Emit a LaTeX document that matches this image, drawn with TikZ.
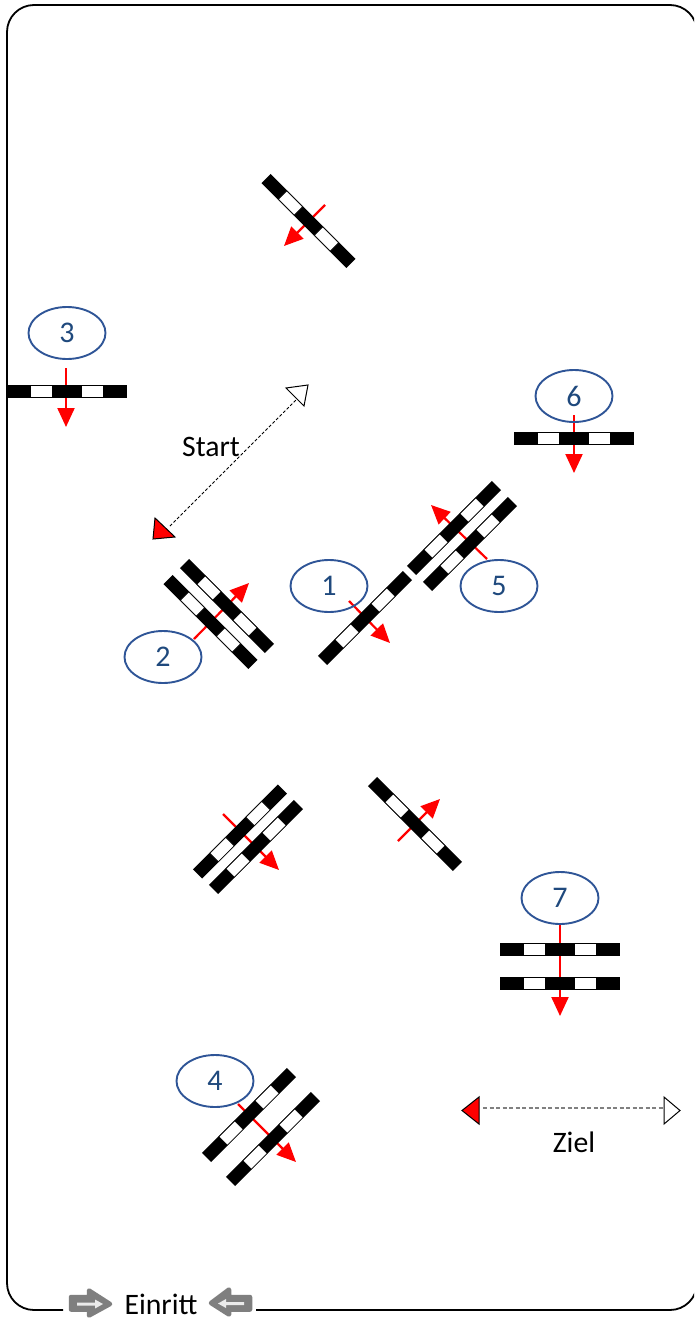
\documentclass[tikz,border=0pt]{standalone}
\usepackage{fontspec}
\setmainfont{Carlito}
\usetikzlibrary{arrows.meta,shapes.geometric}
\definecolor{numblue}{HTML}{1F497D}
\definecolor{ringblue}{HTML}{2F5597}
\definecolor{einrittgray}{HTML}{7F7F7F}
\definecolor{zielgray}{HTML}{808080}
\tikzset{
  x=1pt,y=-1pt,
  label text/.style={font=\fontsize{29.7}{32}\selectfont,text=black,inner sep=0pt},
  num/.style={draw=ringblue,line width=1.9pt,ellipse,minimum width=77pt,minimum height=52pt,inner sep=0pt,
    font=\fontsize{30}{32}\selectfont,text=numblue},
  redarrow/.style={draw=red,line width=2.2pt,-{Triangle[length=19pt,width=17pt,fill=red]}},
  dashline/.style={line width=1pt,dash pattern=on 3pt off 2pt},
  tipshape/.style={draw=black,line width=1pt,line join=miter},
  gate/.style={draw=einrittgray,line width=4.5pt,fill=einrittgray,line join=round},
  gateinner/.style={fill=white!92!black},
  railbar/.pic={
    \fill[black] (-60,-6.5) rectangle (60,6.5);
    \draw[black,fill=white,line width=.7pt] (-36.7,-6) rectangle (-14.3,6);
    \draw[black,fill=white,line width=.7pt] (14.3,-6) rectangle (36.7,6);
  }
}
\begin{document}
\begin{tikzpicture}
\clip (0,0) rectangle (694,1319);
\fill[white] (0,0) rectangle (694,1319);
% frame
\coordinate (fa) at (63,1310);
\coordinate (fb) at (256,1310);
\draw[black,line width=1.8pt,rounded corners=27pt]
  (fa) -- (7,1310) -- (7,5) -- (697,5) -- (697,1310) -- (fb);
% direction arrows
\coordinate (r0a) at (325,205); \coordinate (r0b) at (284,246);
\coordinate (r3a) at (66,368);  \coordinate (r3b) at (66,427);
\coordinate (r6a) at (574,415); \coordinate (r6b) at (574,473);
\coordinate (r7a) at (560,925); \coordinate (r7b) at (560,1016);
\coordinate (r1a) at (349,601); \coordinate (r1b) at (390,643);
\coordinate (r2a) at (194,639); \coordinate (r2b) at (249,583);
\coordinate (r5a) at (487,559); \coordinate (r5b) at (431,505);
\coordinate (r8a) at (223,814); \coordinate (r8b) at (279,870);
\coordinate (r9a) at (398,841); \coordinate (r9b) at (440,799);
\coordinate (r4a) at (238,1104); \coordinate (r4b) at (296,1162);
\foreach \n in {0,3,6,7,1,2,5,8,9,4}
  \draw[redarrow] (r\n a) -- (r\n b);
% bars
\pic[rotate=-45] at (308.5,221) {railbar};
\pic at (67,391.5) {railbar};
\pic at (574,438.5) {railbar};
\pic at (560,949.5) {railbar};
\pic at (560,983.5) {railbar};
\pic[rotate=45] at (365,618) {railbar};
\pic[rotate=-45] at (210.5,622) {railbar};
\pic[rotate=-45] at (227,606) {railbar};
\pic[rotate=45] at (454,528) {railbar};
\pic[rotate=45] at (470,544) {railbar};
\pic[rotate=45] at (240,831.5) {railbar};
\pic[rotate=45] at (256,847) {railbar};
\pic[rotate=-45] at (415,824) {railbar};
\pic[rotate=45] at (249,1115) {railbar};
\pic[rotate=45] at (273,1139) {railbar};
% numbers
\node[num] (n3) at (67,333) {3};
\node[num] (n6) at (574,396) {6};
\node[num] (n7) at (560,898) {7};
\node[num] (n1) at (329,586) {1};
\node[num] (n2) at (163,657) {2};
\node[num] (n5) at (499,586) {5};
\node[num] (n4) at (215,1081) {4};
% start arrow
\coordinate (sa) at (170,526); \coordinate (sb) at (297,399);
\draw[dashline] (sa) -- (sb);
\draw[tipshape,fill=red] (155,518) -- (153,539) -- (175,537) -- cycle;
\draw[tipshape,fill=white] (286,388) -- (308,385) -- (304,406) -- cycle;
\node[label text] (tstart) at (211,447) {Start};
% finish arrow
\coordinate (za) at (483,1108); \coordinate (zb) at (664,1108);
\draw[draw=zielgray,line width=1.3pt,dash pattern=on 4pt off 2.5pt] (za) -- (zb);
\draw[tipshape,fill=red] (462,1110.5) -- (479,1097) -- (479,1124) -- cycle;
\draw[tipshape,fill=white] (664,1097) -- (680,1110.5) -- (664,1124) -- cycle;
\node[label text] (tziel) at (574,1142) {Ziel};
% entry
\draw[gate] (71,1297) -- (89,1297) -- (89,1290.5) -- (110,1304) -- (89,1315.5) -- (89,1309.5) -- (71,1309.5) -- cycle;
\fill[gateinner] (77,1302.5) -- (95,1302.5) -- (95,1299.5) -- (103,1304) -- (95,1308.5) -- (95,1305.5) -- (77,1305.5) -- cycle;
\draw[gate] (250,1297) -- (229,1297) -- (229,1289.5) -- (211,1303) -- (229,1314.5) -- (229,1309.5) -- (250,1309.5) -- cycle;
\fill[gateinner] (244,1302) -- (226,1302) -- (226,1299) -- (218,1303.5) -- (226,1308) -- (226,1305) -- (244,1305) -- cycle;
\node[label text] (teinritt) at (161,1304) {Einritt};
\end{tikzpicture}
\end{document}
